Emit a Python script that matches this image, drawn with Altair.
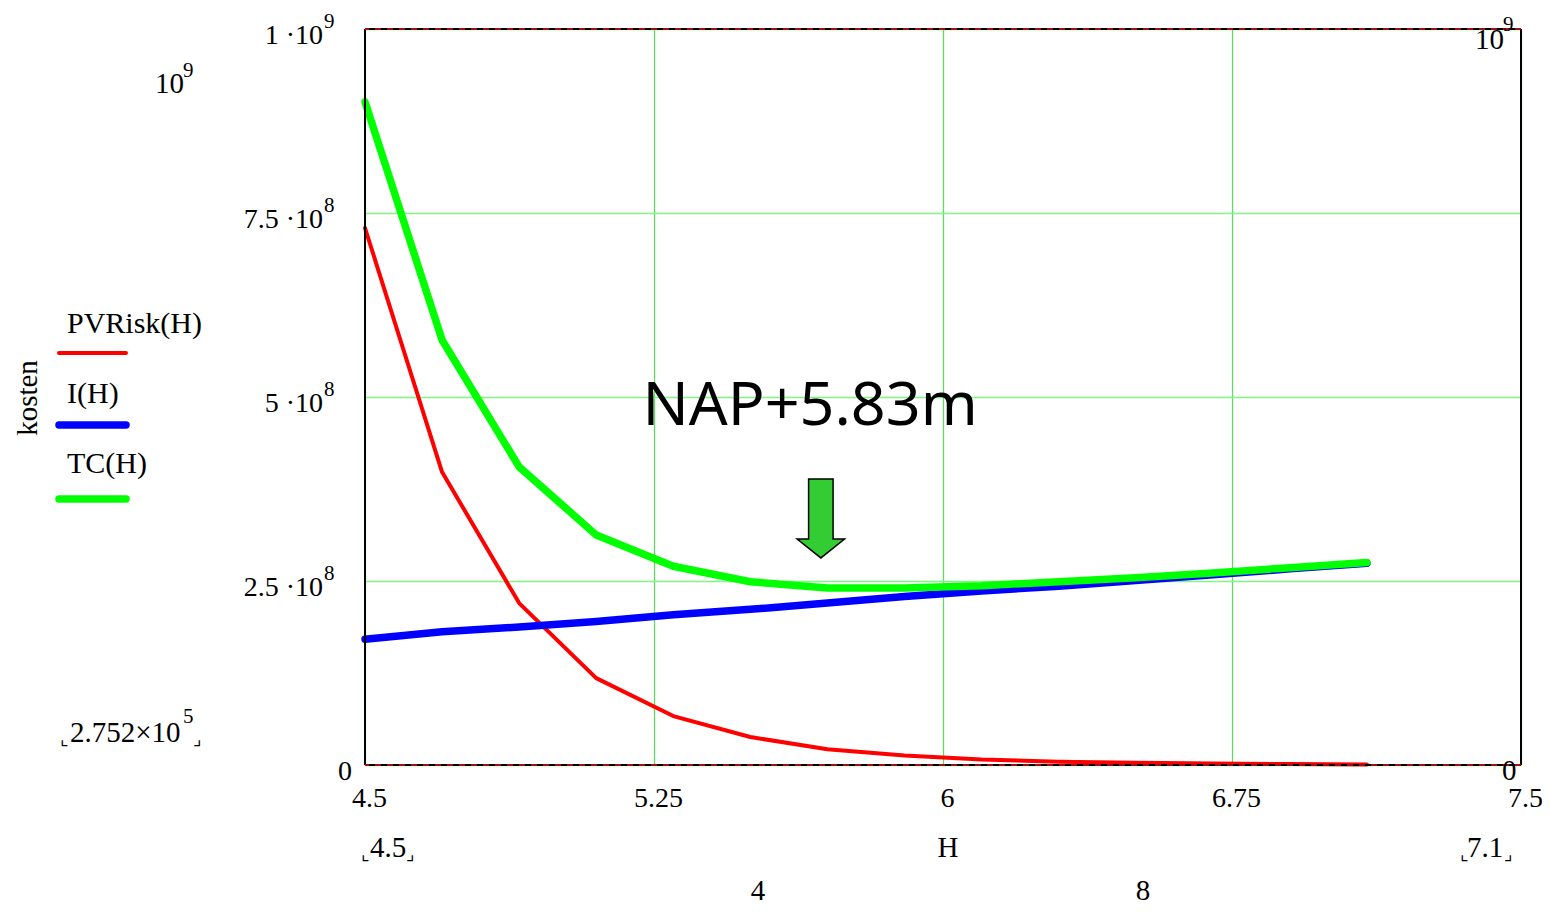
import altair as alt
import pandas as pd

# ---------------- data ----------------
H = [4.5, 4.7, 4.9, 5.1, 5.3, 5.5, 5.7, 5.9, 6.1, 6.3, 6.5, 6.7, 6.9, 7.1]
pv_risk = [7.296e8, 3.98e8, 2.20e8, 1.18e8, 0.665e8, 0.38e8, 0.215e8, 0.13e8,
           0.075e8, 0.045e8, 0.03e8, 0.02e8, 0.013e8, 0.008e8]
invest = [1.71e8, 1.81e8, 1.875e8, 1.95e8, 2.04e8, 2.115e8, 2.20e8, 2.29e8,
          2.365e8, 2.43e8, 2.505e8, 2.585e8, 2.665e8, 2.742e8]
total = [9.01e8, 5.775e8, 4.05e8, 3.125e8, 2.70e8, 2.49e8, 2.405e8, 2.405e8,
         2.435e8, 2.49e8, 2.545e8, 2.61e8, 2.68e8, 2.75e8]

series_names = ["PVRisk(H)", "I(H)", "TC(H)"]
series_colors = ["#ff0000", "#0000ff", "#00ff00"]
series_widths = [4, 7.5, 7.5]

x_domain = [4.5, 7.5]
y_domain = [0, 1e9]
x_ticks = [4.5, 5.25, 6, 6.75, 7.5]
y_ticks = [0, 2.5e8, 5e8, 7.5e8, 1e9]
y_tick_values = [2.5e8, 5e8, 7.5e8, 1e9]
y_tick_bases = ["2.5 \u00b710", "5 \u00b710", "7.5 \u00b710", "1 \u00b710"]
y_tick_exps = ["8", "8", "8", "9"]
zero_tick = [0]

annot_text = ["NAP+5.83m"]
annot_x = [5.655]
annot_y = [4.62e8]
arrow_x = [5.683]
arrow_y = [3.35e8]

df = pd.DataFrame({"H": H, "PVRisk": pv_risk, "I": invest, "TC": total})

SERIF = "Liberation Serif"
xs = alt.Scale(domain=x_domain, nice=False, zero=False)
ys = alt.Scale(domain=y_domain, nice=False, zero=False)

# ---------------- grid / axes ----------------
grid = alt.Chart(df).mark_line(opacity=0).encode(
    x=alt.X("H:Q", scale=xs, title=None,
            axis=alt.Axis(values=x_ticks, labelExpr="'' + datum.value", grid=True,
                          gridColor="#55e055", gridWidth=1.2, domain=False, ticks=False,
                          tickSize=0, labelFont=SERIF, labelFontSize=28, labelColor="black",
                          labelBaseline="alphabetic", labelPadding=41, labelOffset=4,
                          labelFlush=False, labelOverlap=False)),
    y=alt.Y("TC:Q", scale=ys, title=None,
            axis=alt.Axis(values=y_ticks, grid=True, gridColor="#80f880", gridWidth=1.5,
                          labels=False, domain=False, ticks=False, tickSize=0)),
)

layers = [grid]

# series lines
for col, color, w in zip(["PVRisk", "I", "TC"], series_colors, series_widths):
    layers.append(
        alt.Chart(df).mark_line(color=color, strokeWidth=w, strokeCap="round",
                                strokeJoin="round").encode(
            x=alt.X("H:Q", scale=xs), y=alt.Y(f"{col}:Q", scale=ys))
    )

# plot frame
xb = pd.DataFrame({"x": x_domain})
yb = pd.DataFrame({"y": y_domain})
layers.append(alt.Chart(xb).mark_rule(color="black", strokeWidth=2).encode(
    x=alt.X("x:Q", scale=xs)))
layers.append(alt.Chart(yb).mark_rule(color="black", strokeWidth=2).encode(
    y=alt.Y("y:Q", scale=ys)))
layers.append(alt.Chart(yb).mark_rule(color="#a01010", strokeWidth=2, strokeDash=[6, 6]).encode(
    y=alt.Y("y:Q", scale=ys)))

# y tick labels (base + superscript exponent)
ytd = pd.DataFrame({"v": y_tick_values, "base": y_tick_bases, "exp": y_tick_exps})
layers.append(alt.Chart(ytd).mark_text(align="right", baseline="alphabetic", dy=15,
                                       font=SERIF, fontSize=28, color="black").encode(
    x=alt.value(-42), y=alt.Y("v:Q", scale=ys), text="base:N"))
layers.append(alt.Chart(ytd).mark_text(align="left", baseline="alphabetic", dy=-1,
                                       font=SERIF, fontSize=21, color="black").encode(
    x=alt.value(-41), y=alt.Y("v:Q", scale=ys), text="exp:N"))
layers.append(alt.Chart(pd.DataFrame({"v": zero_tick})).mark_text(
    align="right", baseline="alphabetic", dy=15, font=SERIF, fontSize=28, color="black",
    text="0").encode(x=alt.value(-13), y=alt.Y("v:Q", scale=ys)))

# annotation
ann = pd.DataFrame({"x": annot_x, "y": annot_y, "t": annot_text})
layers.append(alt.Chart(ann).mark_text(align="center", baseline="alphabetic",
                                       font="Noto Sans", fontSize=61, color="black").encode(
    x=alt.X("x:Q", scale=xs), y=alt.Y("y:Q", scale=ys), text="t:N"))
arrow_path = "M -0.31 -1 L 0.31 -1 L 0.31 0.52 L 0.6 0.52 L 0 1 L -0.6 0.52 L -0.31 0.52 Z"
arr = pd.DataFrame({"x": arrow_x, "y": arrow_y})
layers.append(alt.Chart(arr).mark_point(shape=arrow_path, size=6241, filled=True,
                                        fill="#33cc33", stroke="black", strokeWidth=1.5,
                                        opacity=1).encode(
    x=alt.X("x:Q", scale=xs), y=alt.Y("y:Q", scale=ys)))


def txt(text, x, y, size=28, align="left", baseline="alphabetic", angle=0, font=SERIF):
    return alt.Chart(alt.Data(values=[{}])).mark_text(
        text=text, fontSize=size, align=align, baseline=baseline, font=font,
        color="black", angle=angle).encode(x=alt.value(x), y=alt.value(y))


def rule(x1, x2, y, color, w):
    return alt.Chart(alt.Data(values=[{}])).mark_rule(
        color=color, strokeWidth=w, strokeCap="round").encode(
        x=alt.value(x1), x2=alt.value(x2), y=alt.value(y))


# legend
legend_text_y = [304, 374, 444]
legend_line_y = [324, 396, 470]
for name, color, w, ty, ly in zip(series_names, series_colors, series_widths,
                                  legend_text_y, legend_line_y):
    layers.append(txt(name, -298, ty, size=30))
    layers.append(rule(-306, -239, ly, color, w))

# axis title and Mathcad-style decorations
layers += [
    txt("kosten", -337, 369, size=29, align="center", baseline="middle", angle=270),
    txt("H", 583, 828, size=29, align="center"),
    txt("10", -210, 64, size=29), txt("9", -182, 48, size=21),
    txt("10", 1110, 20, size=29), txt("9", 1138, 2, size=21),
    txt("0", 1137, 751, size=29),
    txt("2.752\u00d710", -295, 713, size=29), txt("5", -182, 694, size=21),
    txt("\u231e", -305, 716, size=18, font="DejaVu Sans"),
    txt("\u231f", -172, 716, size=18, font="DejaVu Sans"),
    txt("4.5", 5, 828, size=29),
    txt("\u231e", -4, 831, size=18, font="DejaVu Sans"),
    txt("\u231f", 41, 831, size=18, font="DejaVu Sans"),
    txt("7.1", 1102, 828, size=29),
    txt("\u231e", 1095, 831, size=18, font="DejaVu Sans"),
    txt("\u231f", 1139, 831, size=18, font="DejaVu Sans"),
    txt("4", 393, 871, size=29, align="center"),
    txt("8", 778, 871, size=29, align="center"),
]

chart = alt.layer(*layers).properties(
    width=1156, height=736,
    autosize=alt.AutoSizeParams(type="none"),
    padding={"left": 357, "top": 21, "right": 21, "bottom": 143},
    background="white",
).configure_view(stroke=None)

chart.save("out.html", embed_options={"renderer": "svg", "actions": False})
